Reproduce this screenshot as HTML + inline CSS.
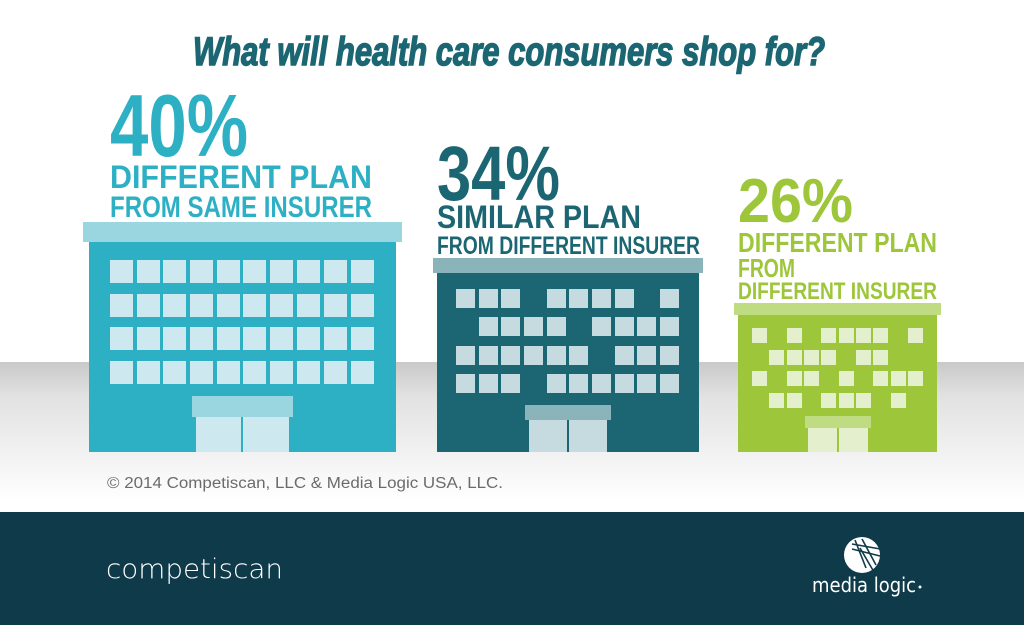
<!DOCTYPE html>
<html><head><meta charset="utf-8"><style>
html,body{margin:0;padding:0;background:#fff;}
svg{display:block;}
</style></head><body>
<svg width="1024" height="625" viewBox="0 0 1024 625" xmlns="http://www.w3.org/2000/svg">
<defs>
<linearGradient id="g" x1="0" y1="0" x2="0" y2="1">
<stop offset="0" stop-color="#c9c9c9"/><stop offset="0.25" stop-color="#e2e2e2"/><stop offset="1" stop-color="#ffffff"/>
</linearGradient>
</defs>
<rect width="1024" height="625" fill="#fff"/>
<rect x="0" y="362" width="1024" height="140" fill="url(#g)"/>
<rect x="0" y="512" width="1024" height="113" fill="#0f3a4a"/>

<text x="193" y="65" font-family="Liberation Sans, sans-serif" font-weight="bold" font-style="italic" font-size="40" fill="#1b6672" stroke="#1b6672" stroke-width="1.5" textLength="632" lengthAdjust="spacingAndGlyphs">What will health care consumers shop for?</text>

<g font-family="Liberation Sans, sans-serif" font-weight="bold">
<text x="110" y="156" font-size="88" fill="#2db0c4" textLength="138" lengthAdjust="spacingAndGlyphs">40%</text>
<text x="110" y="188" font-size="32" fill="#2db0c4" textLength="262" lengthAdjust="spacingAndGlyphs">DIFFERENT PLAN</text>
<text x="110" y="217" font-size="30" fill="#2db0c4" textLength="262" lengthAdjust="spacingAndGlyphs">FROM SAME INSURER</text>

<text x="437" y="200" font-size="77" fill="#1b6672" textLength="123" lengthAdjust="spacingAndGlyphs">34%</text>
<text x="437" y="228" font-size="32" fill="#1b6672" textLength="204" lengthAdjust="spacingAndGlyphs">SIMILAR PLAN</text>
<text x="437" y="254" font-size="25" fill="#1b6672" textLength="263" lengthAdjust="spacingAndGlyphs">FROM DIFFERENT INSURER</text>

<text x="738" y="222" font-size="62" fill="#9dc63b" textLength="115" lengthAdjust="spacingAndGlyphs">26%</text>
<text x="738" y="252" font-size="28" fill="#9dc63b" textLength="199" lengthAdjust="spacingAndGlyphs">DIFFERENT PLAN</text>
<text x="738" y="277" font-size="26" fill="#9dc63b" textLength="57" lengthAdjust="spacingAndGlyphs">FROM</text>
<text x="738" y="299" font-size="24" fill="#9dc63b" textLength="199" lengthAdjust="spacingAndGlyphs">DIFFERENT INSURER</text>
</g>

<!-- Building 1 -->
<rect x="89" y="242" width="307" height="210" fill="#2db0c4"/>
<rect x="83" y="222" width="319" height="20" fill="#9ad6e0"/>
<g fill="#cde9ef">
<rect x="110" y="260" width="23" height="23"/><rect x="137" y="260" width="23" height="23"/><rect x="163" y="260" width="23" height="23"/><rect x="190" y="260" width="23" height="23"/><rect x="217" y="260" width="23" height="23"/><rect x="243" y="260" width="23" height="23"/><rect x="270" y="260" width="23" height="23"/><rect x="297" y="260" width="23" height="23"/><rect x="324" y="260" width="23" height="23"/><rect x="351" y="260" width="23" height="23"/>
<rect x="110" y="294" width="23" height="23"/><rect x="137" y="294" width="23" height="23"/><rect x="163" y="294" width="23" height="23"/><rect x="190" y="294" width="23" height="23"/><rect x="217" y="294" width="23" height="23"/><rect x="243" y="294" width="23" height="23"/><rect x="270" y="294" width="23" height="23"/><rect x="297" y="294" width="23" height="23"/><rect x="324" y="294" width="23" height="23"/><rect x="351" y="294" width="23" height="23"/>
<rect x="110" y="327" width="23" height="23"/><rect x="137" y="327" width="23" height="23"/><rect x="163" y="327" width="23" height="23"/><rect x="190" y="327" width="23" height="23"/><rect x="217" y="327" width="23" height="23"/><rect x="243" y="327" width="23" height="23"/><rect x="270" y="327" width="23" height="23"/><rect x="297" y="327" width="23" height="23"/><rect x="324" y="327" width="23" height="23"/><rect x="351" y="327" width="23" height="23"/>
<rect x="110" y="361" width="23" height="23"/><rect x="137" y="361" width="23" height="23"/><rect x="163" y="361" width="23" height="23"/><rect x="190" y="361" width="23" height="23"/><rect x="217" y="361" width="23" height="23"/><rect x="243" y="361" width="23" height="23"/><rect x="270" y="361" width="23" height="23"/><rect x="297" y="361" width="23" height="23"/><rect x="324" y="361" width="23" height="23"/><rect x="351" y="361" width="23" height="23"/>
<rect x="196" y="417" width="45" height="35"/><rect x="243" y="417" width="46" height="35"/>
</g>
<rect x="192" y="396" width="101" height="21" fill="#9ad6e0"/>

<!-- Building 2 -->
<rect x="437" y="273" width="262" height="179" fill="#1b6672"/>
<rect x="433" y="258" width="270" height="15" fill="#8ab3ba"/>
<g fill="#c6dbdf">
<rect x="456" y="289" width="19" height="19"/><rect x="479" y="289" width="19" height="19"/><rect x="501" y="289" width="19" height="19"/><rect x="547" y="289" width="19" height="19"/><rect x="569" y="289" width="19" height="19"/><rect x="592" y="289" width="19" height="19"/><rect x="615" y="289" width="19" height="19"/><rect x="660" y="289" width="19" height="19"/>
<rect x="479" y="317" width="19" height="19"/><rect x="501" y="317" width="19" height="19"/><rect x="524" y="317" width="19" height="19"/><rect x="547" y="317" width="19" height="19"/><rect x="592" y="317" width="19" height="19"/><rect x="615" y="317" width="19" height="19"/><rect x="637" y="317" width="19" height="19"/><rect x="660" y="317" width="19" height="19"/>
<rect x="456" y="346" width="19" height="19"/><rect x="479" y="346" width="19" height="19"/><rect x="501" y="346" width="19" height="19"/><rect x="524" y="346" width="19" height="19"/><rect x="547" y="346" width="19" height="19"/><rect x="569" y="346" width="19" height="19"/><rect x="615" y="346" width="19" height="19"/><rect x="637" y="346" width="19" height="19"/><rect x="660" y="346" width="19" height="19"/>
<rect x="456" y="374" width="19" height="19"/><rect x="479" y="374" width="19" height="19"/><rect x="501" y="374" width="19" height="19"/><rect x="547" y="374" width="19" height="19"/><rect x="569" y="374" width="19" height="19"/><rect x="592" y="374" width="19" height="19"/><rect x="615" y="374" width="19" height="19"/><rect x="637" y="374" width="19" height="19"/><rect x="660" y="374" width="19" height="19"/>
<rect x="529" y="420" width="38" height="32"/><rect x="569" y="420" width="38" height="32"/>
</g>
<rect x="525" y="405" width="86" height="15" fill="#8ab3ba"/>

<!-- Building 3 -->
<rect x="738" y="315" width="199" height="137" fill="#9dc63b"/>
<rect x="734" y="303" width="207" height="12" fill="#c0dc82"/>
<g fill="#e4f0cd">
<rect x="752" y="328" width="15" height="15"/><rect x="787" y="328" width="15" height="15"/><rect x="821" y="328" width="15" height="15"/><rect x="839" y="328" width="15" height="15"/><rect x="856" y="328" width="15" height="15"/><rect x="873" y="328" width="15" height="15"/><rect x="908" y="328" width="15" height="15"/>
<rect x="769" y="350" width="15" height="15"/><rect x="787" y="350" width="15" height="15"/><rect x="804" y="350" width="15" height="15"/><rect x="821" y="350" width="15" height="15"/><rect x="856" y="350" width="15" height="15"/><rect x="873" y="350" width="15" height="15"/>
<rect x="752" y="371" width="15" height="15"/><rect x="787" y="371" width="15" height="15"/><rect x="804" y="371" width="15" height="15"/><rect x="839" y="371" width="15" height="15"/><rect x="873" y="371" width="15" height="15"/><rect x="891" y="371" width="15" height="15"/><rect x="908" y="371" width="15" height="15"/>
<rect x="769" y="393" width="15" height="15"/><rect x="787" y="393" width="15" height="15"/><rect x="821" y="393" width="15" height="15"/><rect x="839" y="393" width="15" height="15"/><rect x="856" y="393" width="15" height="15"/><rect x="891" y="393" width="15" height="15"/>
<rect x="808" y="428" width="29" height="24"/><rect x="839" y="428" width="29" height="24"/>
</g>
<rect x="805" y="416" width="66" height="12" fill="#c0dc82"/>

<text x="107" y="488" font-family="Liberation Sans, sans-serif" font-size="15.5" fill="#6b6b6b" textLength="396" lengthAdjust="spacingAndGlyphs">© 2014 Competiscan, LLC &amp; Media Logic USA, LLC.</text>

<text x="106" y="578" font-family="DejaVu Sans, sans-serif" font-weight="200" font-size="27" fill="#fff" textLength="177" lengthAdjust="spacingAndGlyphs">competiscan</text>

<!-- media logic logo -->
<circle cx="862" cy="555" r="18" fill="#fff"/>
<g stroke="#0f3a4a" stroke-width="1.6" fill="none">
<path d="M852 544 L886 550"/><path d="M852 549 L880 556"/><path d="M855 540 L866 568"/><path d="M862 539 L876 565"/><path d="M860 548 L874 572"/>
</g>
<text x="812" y="592" font-family="DejaVu Sans, sans-serif" font-size="20" fill="#fff" textLength="104" lengthAdjust="spacingAndGlyphs">media logic</text>
<circle cx="920" cy="587" r="1.5" fill="#fff"/>
</svg>
</body></html>
